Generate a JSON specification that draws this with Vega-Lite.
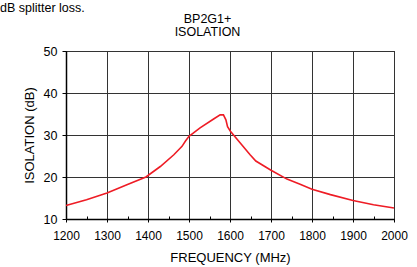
{
  "$schema": "https://vega.github.io/schema/vega-lite/v6.json",
  "width": 328,
  "height": 168,
  "autosize": {"type": "none"},
  "padding": {"left": 66, "top": 51, "right": 23, "bottom": 48},
  "background": "white",
  "config": {
    "font": "Liberation Sans",
    "view": {"stroke": "black", "strokeWidth": 1},
    "axis": {"labelFont": "Liberation Sans", "titleFont": "Liberation Sans", "labelColor": "black", "titleColor": "black", "labelFontSize": 12, "titleFontSize": 13, "titleFontWeight": "normal"}
  },
  "title": {"text": "dB splitter loss.", "anchor": "start", "frame": "group", "dx": -66, "offset": -2, "fontSize": 12.5, "fontWeight": "normal", "color": "black", "font": "Liberation Sans"},
  "data": {"values": [
    {"freq": 1200, "iso": 13.2},
    {"freq": 1250, "iso": 14.6},
    {"freq": 1300, "iso": 16.2},
    {"freq": 1350, "iso": 18.2},
    {"freq": 1395, "iso": 20.0},
    {"freq": 1430, "iso": 22.5},
    {"freq": 1463, "iso": 25.3},
    {"freq": 1483, "iso": 27.3},
    {"freq": 1491, "iso": 28.5},
    {"freq": 1500, "iso": 29.7},
    {"freq": 1527, "iso": 31.7},
    {"freq": 1560, "iso": 33.8},
    {"freq": 1576, "iso": 34.8},
    {"freq": 1584, "iso": 34.8},
    {"freq": 1590, "iso": 33.6},
    {"freq": 1594, "iso": 32.0},
    {"freq": 1601, "iso": 30.9},
    {"freq": 1625, "iso": 28.1},
    {"freq": 1649, "iso": 25.3},
    {"freq": 1663, "iso": 23.8},
    {"freq": 1700, "iso": 21.6},
    {"freq": 1739, "iso": 19.5},
    {"freq": 1771, "iso": 18.3},
    {"freq": 1800, "iso": 17.1},
    {"freq": 1845, "iso": 15.8},
    {"freq": 1900, "iso": 14.4},
    {"freq": 1950, "iso": 13.4},
    {"freq": 2000, "iso": 12.6}
  ]},
  "layer": [
    {
      "mark": {"type": "line", "color": "#ee1c25", "strokeWidth": 1.6},
      "encoding": {
        "x": {"field": "freq", "type": "quantitative", "scale": {"domain": [1200, 2000], "nice": false, "zero": false},
          "axis": {"orient": "bottom", "values": [1200,1300,1400,1500,1600,1700,1800,1900,2000], "format": "d", "grid": true, "gridColor": "#333333", "gridOpacity": 1, "gridWidth": 1, "domainColor": "black", "domainWidth": 1.5, "tickColor": "black", "tickSize": 3, "labelPadding": 8, "labelFlush": false, "title": "FREQUENCY (MHz)", "titlePadding": 10}},
        "y": {"field": "iso", "type": "quantitative", "scale": {"domain": [10, 50], "nice": false, "zero": false},
          "axis": {"orient": "left", "values": [10,20,30,40,50], "grid": true, "gridColor": "#333333", "gridOpacity": 1, "gridWidth": 1, "domainColor": "black", "domainWidth": 1.5, "tickColor": "black", "tickSize": 4, "labelPadding": 5, "labelFontSize": 12.5, "title": "ISOLATION (dB)", "titlePadding": 7}}
      }
    },
    {
      "mark": {"type": "line", "opacity": 0},
      "encoding": {
        "x": {"field": "freq", "type": "quantitative", "scale": {"domain": [1200, 2000], "nice": false, "zero": false},
          "axis": {"orient": "bottom", "values": [1250,1350,1450,1550,1650,1750,1850,1950], "grid": false, "domain": false, "labels": false, "tickColor": "black", "tickSize": -3, "title": null}},
        "y": {"field": "iso", "type": "quantitative", "scale": {"domain": [10, 50], "nice": false, "zero": false},
          "axis": {"orient": "left", "values": [10,20,30,40,50], "grid": true, "gridColor": "#333333", "gridOpacity": 1, "gridWidth": 1, "domainColor": "black", "domainWidth": 1.5, "tickColor": "black", "tickSize": 4, "labelPadding": 5, "labelFontSize": 12.5, "title": "ISOLATION (dB)", "titlePadding": 7}}
      }
    },
    {
      "mark": {"type": "line", "opacity": 0},
      "encoding": {
        "x": {"field": "freq", "type": "quantitative", "scale": {"domain": [1200, 2000], "nice": false, "zero": false},
          "axis": {"orient": "top", "grid": false, "domain": false, "labels": false, "ticks": false, "title": ["BP2G1+", "ISOLATION"], "titleFontSize": 12.5, "titleLineHeight": 13, "titleX": 141, "titlePadding": 13}},
        "y": {"field": "iso", "type": "quantitative", "scale": {"domain": [10, 50], "nice": false, "zero": false},
          "axis": {"orient": "left", "values": [10,20,30,40,50], "grid": true, "gridColor": "#333333", "gridOpacity": 1, "gridWidth": 1, "domainColor": "black", "domainWidth": 1.5, "tickColor": "black", "tickSize": 4, "labelPadding": 5, "labelFontSize": 12.5, "title": "ISOLATION (dB)", "titlePadding": 7}}
      }
    }
  ],
  "resolve": {"axis": {"x": "independent"}}
}
